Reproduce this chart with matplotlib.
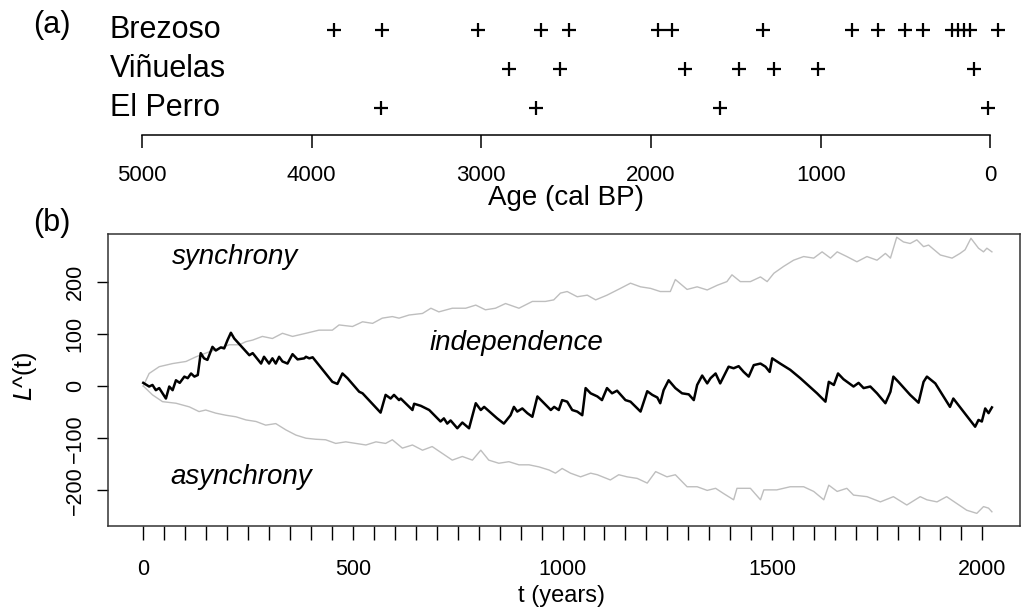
import numpy as np
import matplotlib.pyplot as plt
from matplotlib.transforms import blended_transform_factory

plt.rcParams['font.family'] = ['Liberation Sans', 'DejaVu Sans']

# (a) dated events per site, cal BP
sites = ["Brezoso", "Viñuelas", "El Perro"]
brezoso = [3871, 3586, 3017, 2649, 2481, 1956, 1877, 1338, 817, 664, 503, 398,
           227, 192, 157, 120, -47]
vinuelas = [2835, 2537, 1800, 1479, 1275, 1014, 94]
el_perro = [3591, 2678, 1593, 12]
age_ticks = [5000, 4000, 3000, 2000, 1000, 0]

# (b) observed L^(t) (black) and envelope (grey)
t_obs = [0, 14, 22, 30, 38, 54, 62, 70, 78, 87, 98, 106, 114, 122, 130, 137, 145, 153,
         165, 173, 185, 193, 201, 209, 217, 253, 261, 281, 288, 300, 308, 316, 324, 332,
         344, 356, 368, 384, 388, 396, 404, 451, 463, 475, 487, 515, 523, 566, 578, 590,
         598, 610, 614, 642, 646, 662, 682, 709, 717, 725, 733, 749, 761, 777, 793, 805,
         813, 844, 860, 876, 884, 892, 904, 916, 928, 940, 956, 972, 980, 991, 999, 1011,
         1023, 1035, 1047, 1055, 1067, 1083, 1094, 1106, 1118, 1130, 1150, 1162, 1186,
         1202, 1214, 1226, 1233, 1241, 1253, 1269, 1285, 1301, 1313, 1321, 1333, 1345,
         1353, 1365, 1376, 1388, 1396, 1408, 1420, 1432, 1444, 1456, 1472, 1484, 1494,
         1500, 1519, 1543, 1567, 1607, 1627, 1635, 1647, 1657, 1670, 1694, 1706, 1718,
         1734, 1750, 1770, 1782, 1789, 1801, 1829, 1849, 1861, 1869, 1889, 1924, 1932,
         1984, 1992, 2000, 2008, 2016, 2024]
L_obs = [6, -1, 2, -8, -4, -24, -1, -8, 11, 6, 18, 15, 24, 18, 21, 63, 53, 50,
         75, 68, 74, 72, 88, 102, 91, 59, 63, 43, 56, 43, 53, 43, 56, 47,
         43, 61, 51, 53, 56, 53, 55, 8, 4, 24, 15, -11, -14, -51, -17, -24,
         -17, -27, -24, -46, -34, -38, -46, -68, -62, -72, -66, -81, -70, -81, -33, -46,
         -40, -62, -72, -56, -40, -49, -43, -52, -59, -20, -33, -46, -40, -46, -27, -30,
         -46, -49, -56, -4, -14, -20, -27, -4, -14, -9, -27, -30, -49,
         -10, -17, -22, -33, -8, 11, -4, -14, -16, -27, 2, 20, 5,
         15, 24, 5, 24, 37, 34, 38, 27, 18, 40, 43, 37, 27,
         53, 43, 31, 15, -14, -30, 8, 2, 24, 13, -1, 6, -4,
         -1, -14, -33, -11, 18, 8, -17, -32, 8, 18, 5, -40, -24,
         -78, -65, -68, -43, -52, -41]

t_up = [0, 14, 38, 70, 102, 126, 149, 181, 205, 229, 245, 261, 284, 308, 332, 356, 388,
        419, 451, 467, 499, 523, 547, 570, 594, 610, 634, 666, 686, 705, 737, 769, 793,
        816, 840, 864, 896, 928, 959, 979, 995, 1011, 1035, 1059, 1079, 1106, 1138, 1162,
        1186, 1210, 1233, 1257, 1269, 1297, 1321, 1345, 1369, 1392, 1404, 1424, 1448, 1472,
        1488, 1504, 1527, 1551, 1575, 1599, 1619, 1639, 1655, 1678, 1702, 1726, 1750, 1770,
        1782, 1797, 1813, 1829, 1845, 1861, 1873, 1901, 1929, 1948, 1960, 1974, 1992, 2004,
        2012, 2024]
L_up = [0, 24, 37, 43, 47, 56, 63, 72, 79, 79, 85, 88, 95, 91, 101, 95, 101,
        107, 107, 117, 114, 123, 120, 130, 133, 130, 136, 139, 149, 142, 149, 149, 155,
        146, 149, 158, 149, 162, 162, 165, 178, 181, 171, 174, 165, 174, 187, 197,
        190, 187, 181, 181, 204, 185, 190, 184, 193, 200, 213, 200, 200, 209,
        200, 216, 229, 241, 248, 245, 257, 245, 257, 248, 238, 248, 241, 254,
        245, 285, 276, 273, 280, 267, 270, 251, 245, 254, 261, 283, 264, 257,
        264, 257]

t_lo = [0, 22, 46, 78, 110, 133, 149, 173, 197, 221, 245, 269, 292, 316, 340, 364, 388,
        411, 435, 459, 483, 507, 531, 555, 578, 594, 618, 642, 666, 689, 713, 737, 761,
        785, 805, 824, 848, 872, 896, 920, 944, 968, 983, 999, 1019, 1043, 1067, 1083,
        1114, 1134, 1154, 1178, 1202, 1222, 1249, 1269, 1297, 1321, 1345, 1365, 1384,
        1408, 1416, 1448, 1472, 1480, 1511, 1543, 1575, 1599, 1623, 1635, 1655, 1678,
        1694, 1726, 1758, 1789, 1821, 1853, 1869, 1893, 1916, 1940, 1964, 1988, 2004,
        2016, 2024]
L_lo = [0, -17, -30, -33, -40, -49, -46, -52, -56, -59, -65, -68, -75, -72, -84, -94, -100,
        -102, -103, -110, -107, -110, -113, -107, -110, -103, -119, -113, -123, -116, -129,
        -142, -135, -142, -123, -142, -148, -145, -151, -151, -155, -161, -167, -158, -167,
        -174, -167, -170, -180, -170, -174, -177, -186, -164, -174, -170, -193, -193, -200,
        -196, -206, -218, -196, -196, -218, -199, -199, -193, -193, -202, -218, -190, -202,
        -196, -209, -212, -222, -212, -228, -212, -218, -222, -212, -225, -238, -244, -231,
        -234, -241]

W, H = 1023, 607


def fx(px):
    return px / W


def fy(py):
    return 1 - py / H


fig = plt.figure(figsize=(W / 100, H / 100), dpi=100)

# ---- panel (a)
ax_a = fig.add_axes([fx(142), fy(135), fx(990.3) - fx(142), fy(10) - fy(135)])
ax_a.set_xlim(5000, 0)
ax_a.set_ylim(0.3077, 3.513)
for row, ages in zip([3, 2, 1], [brezoso, vinuelas, el_perro]):
    ax_a.plot(ages, [row] * len(ages), '+', color='black', ms=10, mew=1.6, clip_on=False)
for s in ['top', 'left', 'right']:
    ax_a.spines[s].set_visible(False)
ax_a.spines['bottom'].set_linewidth(1.1)
ax_a.set_yticks([])
ax_a.set_xticks(age_ticks)
ax_a.set_xticklabels([str(a) for a in age_ticks])
ax_a.tick_params(axis='x', length=9.5, width=1.1, pad=12, labelsize=16)
tr = blended_transform_factory(fig.transFigure, ax_a.transData)
for row, name in zip([3, 2, 1], sites):
    ax_a.text(fx(110), row, name, transform=tr, fontsize=22, va='center', ha='left')
fig.text(fx(33), fy(25), "(a)", fontsize=22, va='center', ha='left')
fig.text(fx(566), fy(198), "Age (cal BP)", fontsize=20, ha='center', va='center')

# ---- panel (b)
ax_b = fig.add_axes([fx(108), fy(526), fx(1020) - fx(108), fy(234) - fy(526)])
ax_b.set_xlim(-84.1, 2091)
ax_b.set_ylim(-268.2, 291.2)
ax_b.plot(t_up, L_up, color='#bebebe', lw=1)
ax_b.plot(t_lo, L_lo, color='#bebebe', lw=1)
ax_b.plot(t_obs, L_obs, color='black', lw=1.8)
for s in ax_b.spines.values():
    s.set_linewidth(1.1)
    s.set_color('#333333')
xt = list(range(0, 2001, 50))
ax_b.set_xticks(xt)
ax_b.set_xticklabels([str(t) if t % 500 == 0 else '' for t in xt])
ax_b.tick_params(axis='x', length=10, width=1, pad=14, labelsize=15.5)
ax_b.set_yticks([-200, -100, 0, 100, 200])
ax_b.tick_params(axis='y', length=8, width=1, pad=8, labelsize=15.5, labelrotation=90)
for lab in ax_b.get_yticklabels():
    lab.set_va('center')

fig.text(fx(172), fy(257), "synchrony", fontsize=20, style='italic', va='center', ha='left')
fig.text(fx(430), fy(343), "independence", fontsize=20, style='italic', va='center', ha='left')
fig.text(fx(170), fy(477), "asynchrony", fontsize=20, style='italic', va='center', ha='left')
fig.text(fx(33), fy(223), "(b)", fontsize=22, va='center', ha='left')
fig.text(fx(25), fy(376), r"$L$^(t)", fontsize=18, rotation=90, va='center', ha='center')
fig.text(fx(562), fy(596), "t (years)", fontsize=17, ha='center', va='center')

fig.savefig("out.png", dpi=100)
